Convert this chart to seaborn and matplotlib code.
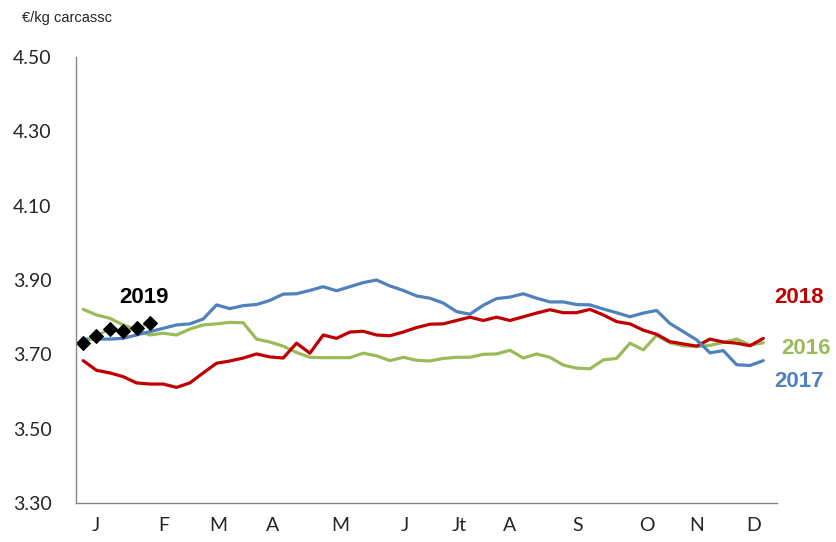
import numpy as np
import pandas as pd
import matplotlib
matplotlib.use("Agg")
import matplotlib.pyplot as plt
import seaborn as sns

# ---- data ----
weeks = list(range(52))
y2016 = [3.821, 3.806, 3.797, 3.779, 3.766, 3.752, 3.757, 3.752, 3.768, 3.779,
         3.782, 3.786, 3.785, 3.741, 3.733, 3.722, 3.705, 3.692, 3.691, 3.691,
         3.691, 3.703, 3.696, 3.683, 3.692, 3.684, 3.682, 3.689, 3.692, 3.692,
         3.700, 3.701, 3.711, 3.690, 3.701, 3.692, 3.671, 3.663, 3.661, 3.685,
         3.689, 3.730, 3.712, 3.751, 3.731, 3.723, 3.721, 3.724, 3.732, 3.741,
         3.725, 3.731]
y2017 = [3.741, 3.741, 3.741, 3.743, 3.752, 3.761, 3.770, 3.779, 3.782, 3.795,
         3.833, 3.823, 3.831, 3.834, 3.845, 3.862, 3.863, 3.872, 3.882, 3.871,
         3.882, 3.893, 3.900, 3.884, 3.872, 3.857, 3.851, 3.838, 3.815, 3.808,
         3.832, 3.850, 3.854, 3.863, 3.851, 3.841, 3.841, 3.834, 3.833, 3.822,
         3.812, 3.801, 3.811, 3.818, 3.783, 3.761, 3.739, 3.704, 3.710, 3.672,
         3.670, 3.683]
y2018 = [3.683, 3.657, 3.650, 3.640, 3.623, 3.620, 3.620, 3.611, 3.623, 3.650,
         3.676, 3.682, 3.690, 3.701, 3.693, 3.690, 3.730, 3.703, 3.752, 3.743,
         3.760, 3.762, 3.752, 3.750, 3.760, 3.772, 3.781, 3.782, 3.791, 3.800,
         3.791, 3.800, 3.791, 3.801, 3.811, 3.820, 3.812, 3.812, 3.821, 3.806,
         3.788, 3.782, 3.765, 3.754, 3.734, 3.728, 3.722, 3.741, 3.733, 3.730,
         3.723, 3.743]
weeks2019 = [0, 1, 2, 3, 4, 5]
y2019 = [3.730, 3.750, 3.768, 3.764, 3.770, 3.784]

month_labels = ["J", "F", "M", "A", "M", "J", "Jt", "A", "S", "O", "N", "D"]
yticks = [3.30, 3.50, 3.70, 3.90, 4.10, 4.30, 4.50]

# ---- layout / style ----
month_label_pos = [0.97, 6.07, 10.1, 14.2, 19.25, 24.1, 28.2, 32.0, 37.1, 42.3, 46.0, 50.3]
month_tick_pos = [-0.5 + 4.542 * k for k in range(12)]
colors = {"2016": "#9BBB59", "2017": "#4F81BD", "2018": "#C00000"}

df = pd.DataFrame({
    "week": weeks * 3,
    "price": y2016 + y2017 + y2018,
    "year": ["2016"] * 52 + ["2017"] * 52 + ["2018"] * 52,
})
df19 = pd.DataFrame({"week": weeks2019, "price": y2019})

sns.set_theme(style="white")
plt.rcParams["font.family"] = ["Lato", "DejaVu Sans"]

fig = plt.figure(figsize=(8.36, 5.42), dpi=100)
ax = fig.add_axes([0.0915, 0.072, 0.8375, 0.8228])

sns.lineplot(data=df, x="week", y="price", hue="year", palette=colors,
             hue_order=["2016", "2018", "2017"], linewidth=2.3, legend=False, ax=ax)
sns.lineplot(data=df19, x="week", y="price", color="#9BBB59", linewidth=1.8,
             marker="D", markersize=7, markerfacecolor="black",
             markeredgecolor="black", legend=False, ax=ax)

ax.set_xlim(-0.5, 52.0)
ax.set_ylim(3.30, 4.50)
ax.set_yticks(yticks)
ax.set_yticklabels([f"{v:.2f}" for v in yticks], fontsize=14)
ax.set_xticks(month_tick_pos)
ax.set_xticklabels([])
ax.set_xticks(month_label_pos, minor=True)
ax.set_xticklabels(month_labels, minor=True, fontsize=14)
ax.tick_params(axis="x", which="major", direction="out", length=6, width=1, color="#868686")
ax.tick_params(axis="x", which="minor", length=0, pad=10)
ax.tick_params(axis="y", which="major", direction="out", length=6, width=1, color="#868686", pad=12)
ax.set_xlabel("")
ax.set_ylabel("")
for s in ["top", "right"]:
    ax.spines[s].set_visible(False)
for s in ["left", "bottom"]:
    ax.spines[s].set_color("#868686")
    ax.spines[s].set_linewidth(1)
ax.grid(False)

fig.text(22 / 836, 1 - 18 / 542, "€/kg carcassc", fontsize=10.5, family=["Liberation Sans", "DejaVu Sans"],
         va="center", ha="left")

lab = dict(fontsize=16, fontweight="bold", ha="center", va="center", clip_on=False,
           family=["Liberation Sans", "DejaVu Sans"])
ax.text(4.57, 3.852, "2019", color="black", **lab)
ax.text(53.7, 3.852, "2018", color="#C00000", **lab)
ax.text(54.2, 3.717, "2016", color="#9BBB59", **lab)
ax.text(53.7, 3.626, "2017", color="#4F81BD", **lab)

fig.savefig("out.png", dpi=100)
